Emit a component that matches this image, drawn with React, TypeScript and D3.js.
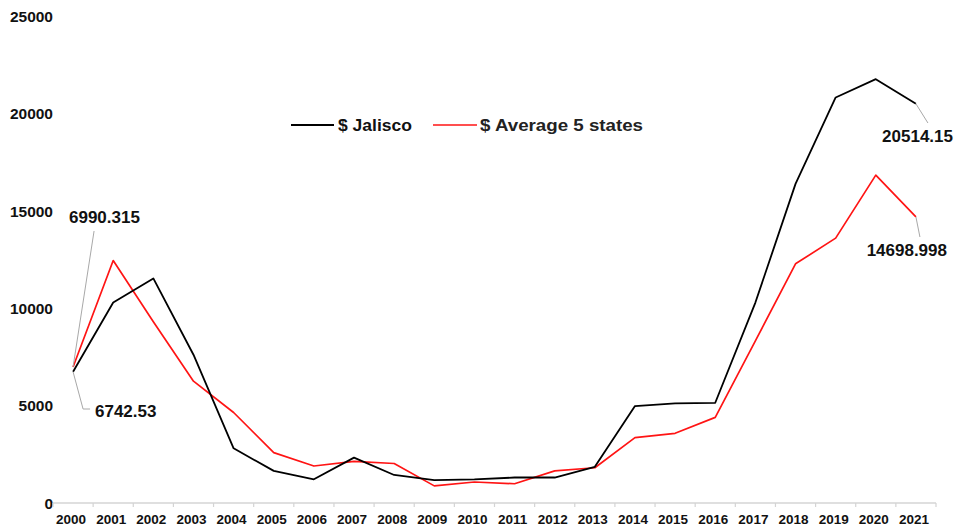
import React from "react";
import * as d3 from "d3";

const years = [
  "2000", "2001", "2002", "2003", "2004", "2005", "2006", "2007", "2008", "2009", "2010",
  "2011", "2012", "2013", "2014", "2015", "2016", "2017", "2018", "2019", "2020", "2021",
];

const jalisco = [
  6742.53, 10300, 11540, 7620, 2810, 1650, 1220, 2330, 1440, 1180, 1210,
  1310, 1310, 1860, 4980, 5120, 5150, 10300, 16400, 20840, 21780, 20514.15,
];

const average5 = [
  6990.315, 12460, 9310, 6260, 4650, 2590, 1900, 2140, 2030, 880, 1080,
  990, 1650, 1810, 3360, 3580, 4400, 8330, 12290, 13610, 16850, 14698.998,
];

const yTicks = [0, 5000, 10000, 15000, 20000, 25000];

const FONT = "'Liberation Sans', Arial, Helvetica, sans-serif";

export default function App() {
  const width = 958;
  const height = 526;

  const x = d3.scaleBand<string>().domain(years).range([53, 936]).padding(0);
  const y = d3.scaleLinear().domain([0, 25000]).range([503, 16.5]);
  const cx = (i: number) => (x(years[i]) as number) + x.bandwidth() / 2;

  const line = d3
    .line<number>()
    .x((_, i) => cx(i))
    .y((d) => y(d));

  const last = years.length - 1;
  const jFirst = { x: cx(0), y: y(jalisco[0]) };
  const aFirst = { x: cx(0), y: y(average5[0]) };
  const jLast = { x: cx(last), y: y(jalisco[last]) };
  const aLast = { x: cx(last), y: y(average5[last]) };

  const boundaries = [...years.map((yr) => x(yr) as number), 936];

  return (
    <svg
      width={width}
      height={height}
      style={{ position: "absolute", left: 0, top: 0, background: "#fff" }}
      fontFamily={FONT}
    >
      {/* y-axis labels (no axis line, no gridlines) */}
      {yTicks.map((t) => (
        <text
          key={t}
          x={53}
          y={y(t)}
          dy="0.36em"
          textAnchor="end"
          fontSize={15.5}
          fontWeight="bold"
          fill="#111"
        >
          {t}
        </text>
      ))}

      {/* x axis */}
      <line x1={53} x2={936} y1={503} y2={503} stroke="#d4d4d4" strokeWidth={1.5} />
      {boundaries.map((b, i) => (
        <line key={i} x1={b} x2={b} y1={503} y2={507} stroke="#d4d4d4" strokeWidth={1.2} />
      ))}
      {years.map((yr, i) => (
        <text
          key={yr}
          x={cx(i) - 2}
          y={524}
          textAnchor="middle"
          fontSize={13.5}
          fontWeight="bold"
          fill="#111"
        >
          {yr}
        </text>
      ))}

      {/* series */}
      <path d={line(average5) as string} fill="none" stroke="#ff1414" strokeWidth={1.7} strokeLinejoin="round" />
      <path d={line(jalisco) as string} fill="none" stroke="#000" strokeWidth={1.8} strokeLinejoin="round" />

      {/* value callouts */}
      <g stroke="#a8a8a8" strokeWidth={1} fill="none">
        <polyline points={`${aFirst.x},${aFirst.y} ${aFirst.x + 21},${231}`} />
        <polyline points={`${jFirst.x},${jFirst.y} ${jFirst.x + 10},${409} ${jFirst.x + 17},${409}`} />
        <polyline points={`${jLast.x},${jLast.y} ${jLast.x + 12},${123}`} />
        <polyline points={`${aLast.x},${aLast.y} ${aLast.x + 4},${237}`} />
      </g>
      <g fontSize={17} fontWeight="bold" fill="#111">
        <text x={69} y={223}>{average5[0].toString()}</text>
        <text x={95} y={417}>{jalisco[0].toString()}</text>
        <text x={953} y={142} textAnchor="end">{jalisco[last].toString()}</text>
        <text x={947} y={256} textAnchor="end">{average5[last].toString()}</text>
      </g>

      {/* legend */}
      <line x1={291} x2={334} y1={125} y2={125} stroke="#000" strokeWidth={1.8} />
      <text
        x={338}
        y={131}
        fontSize={16.5}
        fontWeight="bold"
        fill="#111"
        textLength={74}
        lengthAdjust="spacingAndGlyphs"
      >
        $ Jalisco
      </text>
      <line x1={433} x2={477} y1={125} y2={125} stroke="#ff1414" strokeWidth={1.7} />
      <text
        x={480}
        y={131}
        fontSize={16.5}
        fontWeight="bold"
        fill="#222"
        textLength={163}
        lengthAdjust="spacingAndGlyphs"
      >
        $ Average 5 states
      </text>
    </svg>
  );
}
